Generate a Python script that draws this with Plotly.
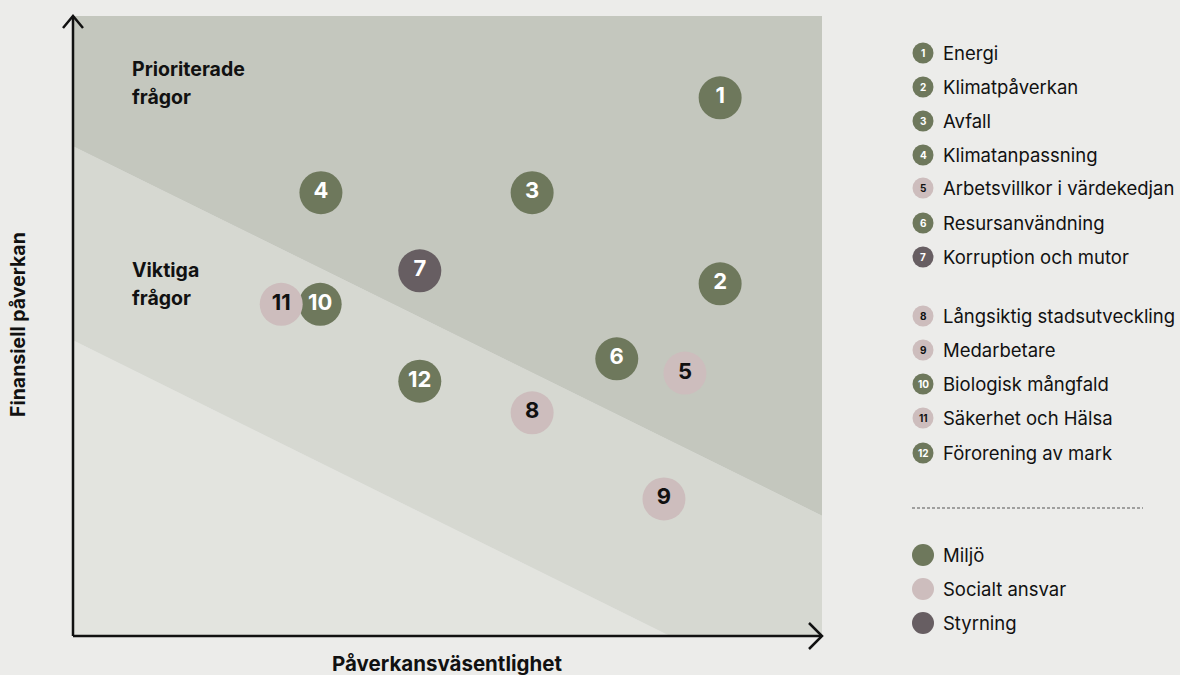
import plotly.graph_objects as go

# bubble data (x = påverkansväsentlighet, y = finansiell påverkan, 0-100)
ids = ["1", "2", "3", "4", "5", "6", "7", "8", "9", "10", "11", "12"]
x_vals = [86.4, 86.4, 61.3, 33.1, 81.7, 72.6, 46.3, 61.3, 78.9, 33.0, 27.8, 46.3]
y_vals = [86.8, 56.8, 71.5, 71.5, 42.4, 44.7, 58.9, 36.0, 22.1, 53.5, 53.5, 41.1]
groups = ["Miljö", "Miljö", "Miljö", "Miljö", "Socialt ansvar", "Miljö",
          "Styrning", "Socialt ansvar", "Socialt ansvar", "Miljö",
          "Socialt ansvar", "Miljö"]
topics = ["Energi", "Klimatpåverkan", "Avfall", "Klimatanpassning",
          "Arbetsvillkor i värdekedjan", "Resursanvändning", "Korruption och mutor",
          "Långsiktig stadsutveckling", "Medarbetare", "Biologisk mångfald",
          "Säkerhet och Hälsa", "Förorening av mark"]
group_names = ["Miljö", "Socialt ansvar", "Styrning"]

# zone boundaries (straight lines)
upper_line_x = [0, 100]
upper_line_y = [79.0, 19.4]
lower_line_x = [0, 79.7]
lower_line_y = [47.7, 0]

colors = {"Miljö": "#6E785C", "Socialt ansvar": "#CDBDBD", "Styrning": "#675E62"}
text_colors = {"Miljö": "white", "Socialt ansvar": "#111111", "Styrning": "white"}

FONT = "Inter"
W, H = 1180, 675
L, R, T, B = 73, 822, 16, 636


def pp_x(px):
    return (px - L) / (R - L)


def pp_y(py):
    return (B - py) / (B - T)


fig = go.Figure()

# background zones
top_path = (f"M {upper_line_x[0]},{upper_line_y[0]} L 0,100 L 100,100 "
            f"L {upper_line_x[1]},{upper_line_y[1]} Z")
mid_path = (f"M {lower_line_x[0]},{lower_line_y[0]} L {upper_line_x[0]},{upper_line_y[0]} "
            f"L {upper_line_x[1]},{upper_line_y[1]} L 100,0 L {lower_line_x[1]},{lower_line_y[1]} Z")
low_path = (f"M 0,0 L {lower_line_x[0]},{lower_line_y[0]} L {lower_line_x[1]},{lower_line_y[1]} Z")
for path, col in [(low_path, "#E3E4DF"), (mid_path, "#D6D8D1"), (top_path, "#C4C7BE")]:
    fig.add_shape(type="path", path=path, xref="x", yref="y",
                  fillcolor=col, line=dict(width=0), layer="below")

# bubbles
fig.add_trace(go.Scatter(
    x=x_vals, y=y_vals, mode="markers+text", text=ids,
    marker=dict(size=43, color=[colors[g] for g in groups], line=dict(width=0)),
    textfont=dict(family=FONT, size=22, color=[text_colors[g] for g in groups],
                  weight="bold"),
    textposition="middle center", hoverinfo="text",
    hovertext=[f"{i}. {t}" for i, t in zip(ids, topics)],
    showlegend=False, cliponaxis=False,
))

# legend: numbered topics
leg_y = [53, 87, 121, 155, 188, 223, 257, 316, 350, 384, 418, 453]
for i, t, g, yy in zip(ids, topics, groups, leg_y):
    fig.add_shape(type="circle", xref="paper", yref="paper",
                  xsizemode="pixel", ysizemode="pixel",
                  xanchor=pp_x(923), yanchor=pp_y(yy),
                  x0=-10.5, x1=10.5, y0=-10.5, y1=10.5,
                  fillcolor=colors[g], line=dict(width=0))
    fig.add_annotation(x=pp_x(923), y=pp_y(yy), xref="paper", yref="paper", text=i,
                       showarrow=False, xanchor="center", yanchor="middle",
                       font=dict(family=FONT, size=10, color=text_colors[g], weight="bold"))
    fig.add_annotation(x=pp_x(941), y=pp_y(yy), xref="paper", yref="paper", text=t,
                       showarrow=False, xanchor="left", yanchor="middle",
                       font=dict(family=FONT, size=18.5, color="#111111"))

# legend: groups
grp_y = [555, 589, 623]
for g, yy in zip(group_names, grp_y):
    fig.add_shape(type="circle", xref="paper", yref="paper",
                  xsizemode="pixel", ysizemode="pixel",
                  xanchor=pp_x(923), yanchor=pp_y(yy),
                  x0=-11, x1=11, y0=-11, y1=11,
                  fillcolor=colors[g], line=dict(width=0))
    fig.add_annotation(x=pp_x(941), y=pp_y(yy), xref="paper", yref="paper", text=g,
                       showarrow=False, xanchor="left", yanchor="middle",
                       font=dict(family=FONT, size=18.5, color="#111111"))

# dashed separator
fig.add_shape(type="line", xref="paper", yref="paper", x0=pp_x(912), x1=pp_x(1143),
              y0=pp_y(508), y1=pp_y(508),
              line=dict(color="#555555", width=1, dash="3px,2px"))

# axes with open arrowheads
ax_line = dict(color="#111111", width=2.5)
fig.add_shape(type="line", xref="paper", yref="paper", x0=0, x1=0, y0=0, y1=1, line=ax_line)
fig.add_shape(type="line", xref="paper", yref="paper", x0=0, x1=1, y0=0, y1=0, line=ax_line)
fig.add_shape(type="path", xref="paper", yref="paper", line=ax_line,
              path=f"M {pp_x(63)},{pp_y(28)} L 0,1 L {pp_x(83)},{pp_y(28)}")
fig.add_shape(type="path", xref="paper", yref="paper", line=ax_line,
              path=f"M {pp_x(809)},{pp_y(623)} L 1,0 L {pp_x(809)},{pp_y(649)}")

# zone labels
for txt, yy in [("Prioriterade", 69), ("frågor", 97), ("Viktiga", 270), ("frågor", 298)]:
    fig.add_annotation(x=pp_x(130), y=pp_y(yy), xref="paper", yref="paper", text=txt,
                       showarrow=False, xanchor="left", yanchor="middle", align="left",
                       font=dict(family=FONT, size=19.5, color="#111111", weight="bold"))

# axis titles
fig.add_annotation(x=pp_x(447), y=pp_y(663), xref="paper", yref="paper",
                   text="Påverkansväsentlighet", showarrow=False,
                   xanchor="center", yanchor="middle",
                   font=dict(family=FONT, size=20.5, color="#111111", weight="bold"))
fig.add_annotation(x=pp_x(18), y=pp_y(325), xref="paper", yref="paper",
                   text="Finansiell påverkan", showarrow=False, textangle=-90,
                   xanchor="center", yanchor="middle",
                   font=dict(family=FONT, size=19.5, color="#111111", weight="bold"))

fig.update_xaxes(range=[0, 100], visible=False, fixedrange=True)
fig.update_yaxes(range=[0, 100], visible=False, fixedrange=True)
fig.update_layout(
    width=W, height=H,
    margin=dict(l=L, r=W - R, t=T, b=H - B),
    paper_bgcolor="#ECECEA", plot_bgcolor="#ECECEA",
    font=dict(family=FONT, color="#111111"),
    showlegend=False,
)

fig.write_html("out.html", config={"displayModeBar": False},
               post_script="document.body.style.margin='0';"
                           "document.body.style.background='#ECECEA';")
